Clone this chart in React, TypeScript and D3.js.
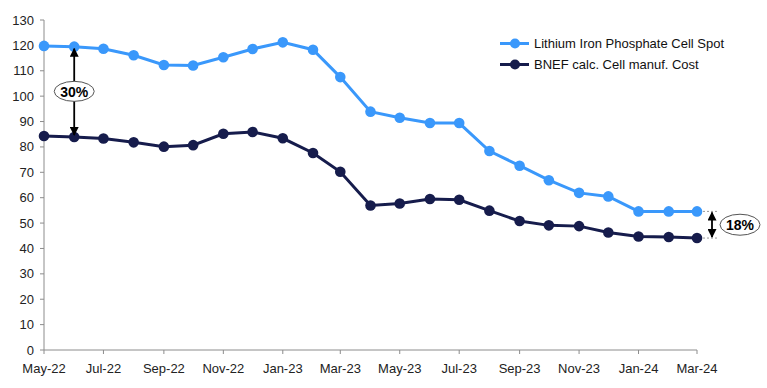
import * as d3 from 'd3'

const MONTHS = ['2022-05','2022-06','2022-07','2022-08','2022-09','2022-10','2022-11','2022-12','2023-01','2023-02','2023-03','2023-04','2023-05','2023-06','2023-07','2023-08','2023-09','2023-10','2023-11','2023-12','2024-01','2024-02','2024-03']
const LFP_SPOT = [119.8,119.5,118.7,116.1,112.3,112.1,115.3,118.6,121.2,118.3,107.5,93.9,91.5,89.4,89.4,78.4,72.6,66.9,61.9,60.5,54.6,54.6,54.6]
const BNEF_COST = [84.3,83.9,83.3,81.8,80.1,80.7,85.2,85.9,83.4,77.6,70.2,56.9,57.7,59.5,59.2,54.9,50.8,49.1,48.8,46.3,44.7,44.5,44.1]
const Y_TICKS = [0,10,20,30,40,50,60,70,80,90,100,110,120,130]
const SERIES = [
  { name: 'Lithium Iron Phosphate Cell Spot', values: LFP_SPOT, color: '#3a98fb' },
  { name: 'BNEF calc. Cell manuf. Cost', values: BNEF_COST, color: '#161c4c' },
]
const GAP_START = '30%'
const GAP_END = '18%'

const W = 767, H = 388
const m = { top: 20, right: 70, bottom: 38, left: 44 }
const font = '"Liberation Sans", Arial, sans-serif'
const axisColor = '#8c8c8c'

export default function App() {
  const dates = MONTHS.map(s => d3.timeParse('%Y-%m')(s) as Date)
  const x = d3.scaleTime().domain([dates[0], dates[dates.length - 1]]).range([m.left, W - m.right])
  const y = d3.scaleLinear().domain([0, 130]).range([H - m.bottom, m.top])
  const xTicks = d3.timeMonth.every(2)!.range(dates[0], d3.timeMonth.offset(dates[dates.length - 1], 1))
  const fmt = d3.timeFormat('%b-%y')
  const line = d3.line<number>().x((_, i) => x(dates[i])).y(d => y(d))

  const last = dates.length - 1
  const ax = x(dates[1]), ayTop = y(LFP_SPOT[1]), ayBot = y(BNEF_COST[1])
  const bxEnd = x(dates[last]), byTop = y(LFP_SPOT[last]), byBot = y(BNEF_COST[last])
  const bArrowX = bxEnd + 15

  return (
    <svg width={W} height={H} style={{ position: 'absolute', left: 0, top: 0, fontFamily: font }}>
      <defs>
        <marker id="ah" viewBox="0 0 10 10" refX="9" refY="5" markerWidth="5" markerHeight="5" orient="auto-start-reverse">
          <path d="M0,0 L10,5 L0,10 z" fill="#000" />
        </marker>
      </defs>
      <rect width={W} height={H} fill="#fff" />

      {/* y axis */}
      <line x1={m.left} x2={m.left} y1={y(130)} y2={y(0)} stroke={axisColor} />
      {Y_TICKS.map(t => (
        <g key={t} transform={`translate(0,${y(t)})`}>
          <line x1={m.left - 4} x2={m.left} stroke={axisColor} />
          <text x={m.left - 10} dy="0.35em" textAnchor="end" fontSize={13} fill="#222">{t}</text>
        </g>
      ))}

      {/* x axis */}
      <line x1={m.left} x2={W - m.right} y1={y(0)} y2={y(0)} stroke={axisColor} />
      {xTicks.map(d => (
        <g key={+d} transform={`translate(${x(d)},${y(0)})`}>
          <line y1={0} y2={4} stroke={axisColor} />
          <text y={18} dy="0.35em" textAnchor="middle" fontSize={13} fill="#222">{fmt(d)}</text>
        </g>
      ))}

      {/* series */}
      {SERIES.map(s => (
        <g key={s.name}>
          <path d={line(s.values) || ''} fill="none" stroke={s.color} strokeWidth={3} />
          {s.values.map((v, i) => (
            <circle key={i} cx={x(dates[i])} cy={y(v)} r={5.3} fill={s.color} />
          ))}
        </g>
      ))}

      {/* 30% gap annotation */}
      <line x1={ax} x2={ax} y1={ayBot - 2} y2={ayTop + 2} stroke="#000" strokeWidth={1.8}
        markerStart="url(#ah)" markerEnd="url(#ah)" />
      <ellipse cx={ax} cy={(ayTop + ayBot) / 2 - 0.5} rx={20} ry={10} fill="#fff" stroke="#555" />
      <text x={ax} y={(ayTop + ayBot) / 2} dy="0.35em" textAnchor="middle" fontSize={14} fontWeight="bold">{GAP_START}</text>

      {/* 18% gap annotation */}
      <line x1={bxEnd + 6} x2={bArrowX + 6} y1={byTop} y2={byTop} stroke="#999" strokeDasharray="2,2" />
      <line x1={bxEnd + 6} x2={bArrowX + 6} y1={byBot} y2={byBot} stroke="#999" strokeDasharray="2,2" />
      <line x1={bArrowX} x2={bArrowX} y1={byBot - 1} y2={byTop + 1} stroke="#000" strokeWidth={1.8}
        markerStart="url(#ah)" markerEnd="url(#ah)" />
      <ellipse cx={bArrowX + 28} cy={(byTop + byBot) / 2} rx={20} ry={10.5} fill="#fff" stroke="#555" />
      <text x={bArrowX + 28} y={(byTop + byBot) / 2} dy="0.35em" textAnchor="middle" fontSize={14} fontWeight="bold">{GAP_END}</text>

      {/* legend */}
      {SERIES.map((s, i) => (
        <g key={s.name} transform={`translate(500,${43.5 + i * 21})`}>
          <line x1={0} x2={29} stroke={s.color} strokeWidth={3} />
          <circle cx={15} r={5} fill={s.color} />
          <text x={34} dy="0.35em" fontSize={13} fill="#111">{s.name}</text>
        </g>
      ))}
    </svg>
  )
}
